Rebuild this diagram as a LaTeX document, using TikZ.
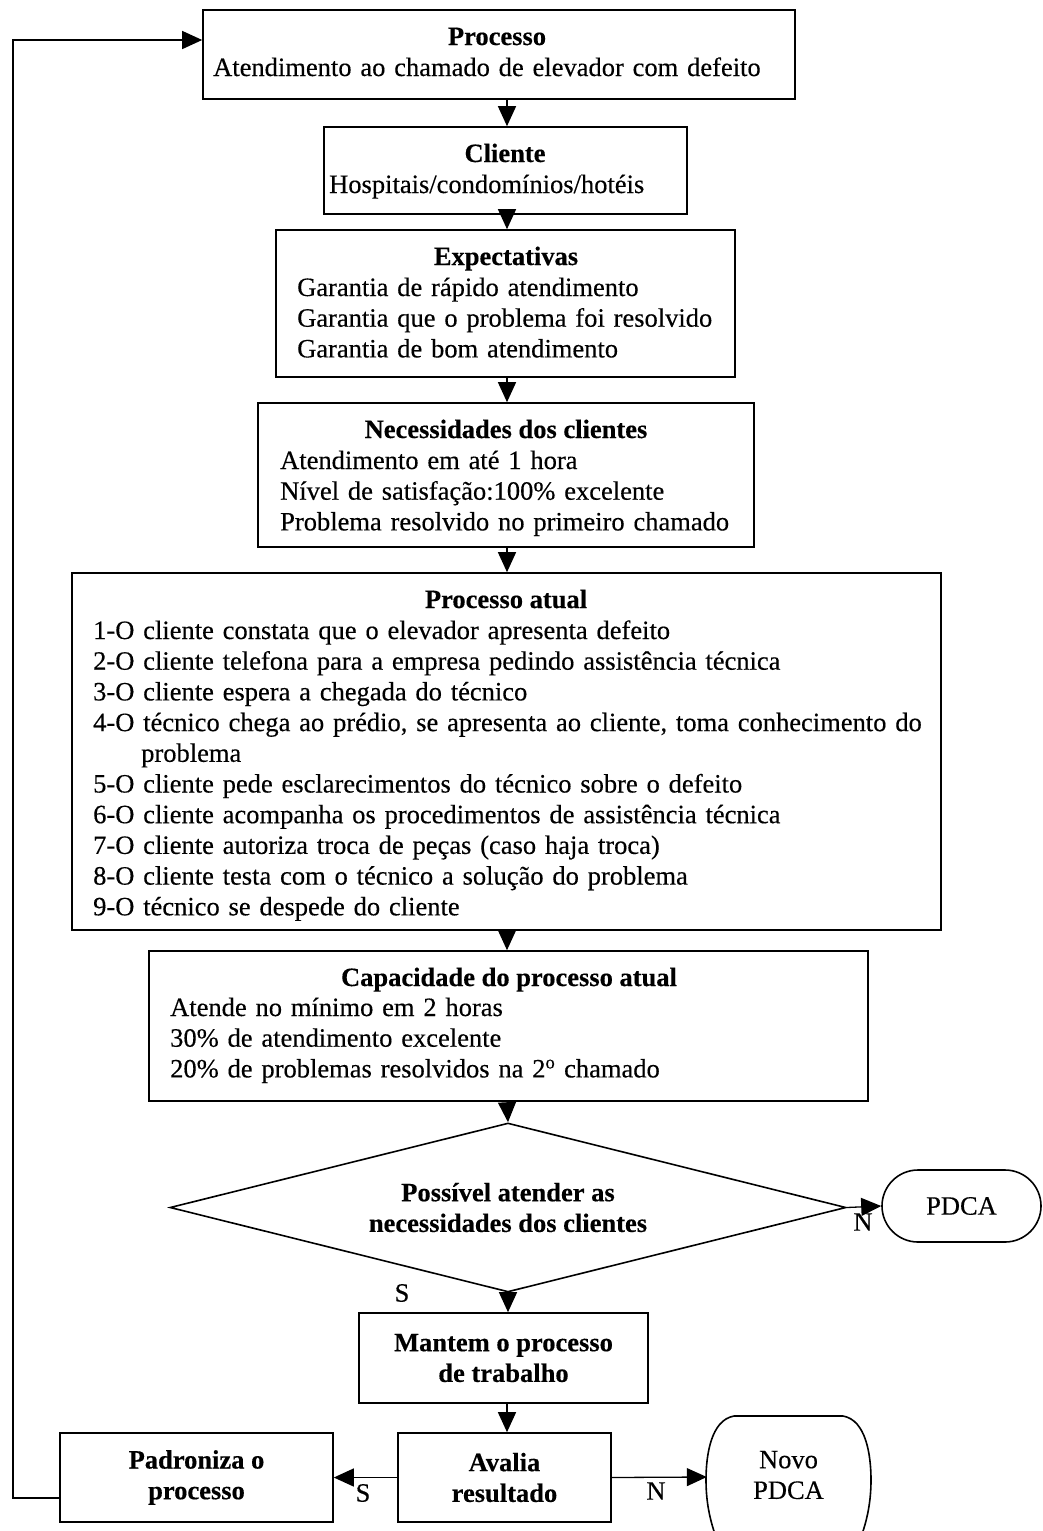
\documentclass[tikz,border=0pt]{standalone}
\usepackage{fontspec}
\setmainfont{Liberation Serif}[FakeBold=0.35]
\usetikzlibrary{shapes.geometric,arrows.meta}

\newcommand\bodyfont{\fontsize{26.5}{30.7}\selectfont}

\begin{document}
\begin{tikzpicture}[x=1pt,y=-1pt,
  every node/.style={font=\bodyfont},
  box/.style={draw, line width=1.6pt, inner sep=0pt},
  title/.style={anchor=base, font=\bodyfont\bfseries},
  body/.style={anchor=base west, text width=850pt, align=left, inner sep=0pt},
  bold/.style={font=\bodyfont\bfseries, align=center},
  arr/.style={line width=1.3pt, -{Triangle[length=20pt,width=18pt]}},
  lbl/.style={inner sep=0pt}]

\useasboundingbox (0,0) rectangle (1043,1531);

% column of the vertical connectors
\coordinate (col) at (507,0);

% boxes
\node[box, minimum width=592pt, minimum height=89pt]  (b1) at (499,54.5)   {};
\node[box, minimum width=363pt, minimum height=87pt]  (b2) at (505.5,170.5) {};
\node[box, minimum width=459pt, minimum height=147pt] (b3) at (505.5,303.5) {};
\node[box, minimum width=496pt, minimum height=144pt] (b4) at (506,475)    {};
\node[box, minimum width=869pt, minimum height=357pt] (b5) at (506.5,751.5) {};
\node[box, minimum width=719pt, minimum height=150pt] (b6) at (508.5,1026) {};

% box texts
\node[title] (t1) at (497,45) {Processo};
\node[body]  (x1) at (213,76) {Atendimento ao chamado de elevador com defeito};

\node[title] (t2) at (505,162) {Cliente};
\node[body]  (x2) at (329,193) {Hospitais/condomínios/hotéis};

\node[title] (t3) at (506,265) {Expectativas};
\node[body]  (x3) at (297,296) {Garantia de rápido atendimento\\
  Garantia que o problema foi resolvido\\
  Garantia de bom atendimento};

\node[title] (t4) at (506,438) {Necessidades dos clientes};
\node[body]  (x4) at (280,469) {Atendimento em até 1 hora\\
  Nível de satisfação:100\% excelente\\
  Problema resolvido no primeiro chamado};

\node[title] (t5) at (506,608) {Processo atual};
\node[body]  (x5) at (93,639) {1-O cliente constata que o elevador apresenta defeito\\
  2-O cliente telefona para a empresa pedindo assistência técnica\\
  3-O cliente espera a chegada do técnico\\
  4-O técnico chega ao prédio, se apresenta ao cliente, toma conhecimento do\\
  \hspace*{48pt}problema\\
  5-O cliente pede esclarecimentos do técnico sobre o defeito\\
  6-O cliente acompanha os procedimentos de assistência técnica\\
  7-O cliente autoriza troca de peças (caso haja troca)\\
  8-O cliente testa com o técnico a solução do problema\\
  9-O técnico se despede do cliente};

\node[title] (t6) at (509,986) {Capacidade do processo atual};
\node[body]  (x6) at (170,1016) {Atende no mínimo em 2 horas\\
  30\% de atendimento excelente\\
  20\% de problemas resolvidos na 2\textsuperscript{o} chamado};

% decision
\node[diamond, draw, line width=1.6pt, aspect=4, inner sep=0pt,
      minimum width=676pt, minimum height=169pt, bold] (d) at (508,1207.5)
  {Possível atender as\\necessidades dos clientes};

% terminals
\node[draw, line width=1.6pt, rounded corners=36pt, minimum width=159pt,
      minimum height=72pt] (pdca) at (961.5,1206) {PDCA};

\node[box, minimum width=289pt, minimum height=90pt, bold] (m) at (503.5,1358)
  {Mantem o processo\\de trabalho};
\node[box, minimum width=213pt, minimum height=89pt, bold] (a) at (504.5,1477.5)
  {Avalia\\resultado};
\node[box, minimum width=273pt, minimum height=89pt, bold] (p) at (196.5,1477.5)
  {Padroniza o\\processo};

\node[minimum width=163pt, minimum height=122pt, inner sep=0pt, align=center]
  (novo) at (788.5,1475) {Novo\\PDCA};
\draw[line width=1.6pt]
  (719,1545) .. controls (711,1525) and (706,1505) .. (706,1480)
             .. controls (706,1455) and (711,1420) .. (734,1416)
  -- (843,1416) .. controls (866,1420) and (871,1455) .. (871,1480)
                .. controls (871,1505) and (866,1525) .. (858,1545);

% vertical connectors
\draw[arr] (b1.south -| col) -- (b2.north -| col);
\draw[arr] (b2.south -| col) -- (b3.north -| col);
\draw[arr] (b3.south -| col) -- (b4.north -| col);
\draw[arr] (b4.south -| col) -- (b5.north -| col);
\draw[arr] (b5.south -| col) -- (b6.north -| col);
\draw[arr] (b6.south -| col) -- (d.north);
\draw[arr] (d.south) -- (m.north -| d.south);
\draw[arr] (m.south -| col) -- (a.north -| col);

% branches
\draw[arr] (d.east) -- (pdca.west);
\draw[arr] (a.west) -- (p.east);
\draw[arr] (a.east) -- ([yshift=-2pt]novo.west);

% feedback loop
\coordinate (fbx) at (13,800);
\draw[arr] ([yshift=-20.5pt]p.west) -| (fbx) |- ([yshift=14.5pt]b1.west);

% branch labels
\node[lbl] (ln1) at (863,1222) {N};
\node[lbl] (ls1) at (402,1293) {S};
\node[lbl] (ls2) at (363,1493) {S};
\node[lbl] (ln2) at (656,1491) {N};

\end{tikzpicture}
\end{document}
